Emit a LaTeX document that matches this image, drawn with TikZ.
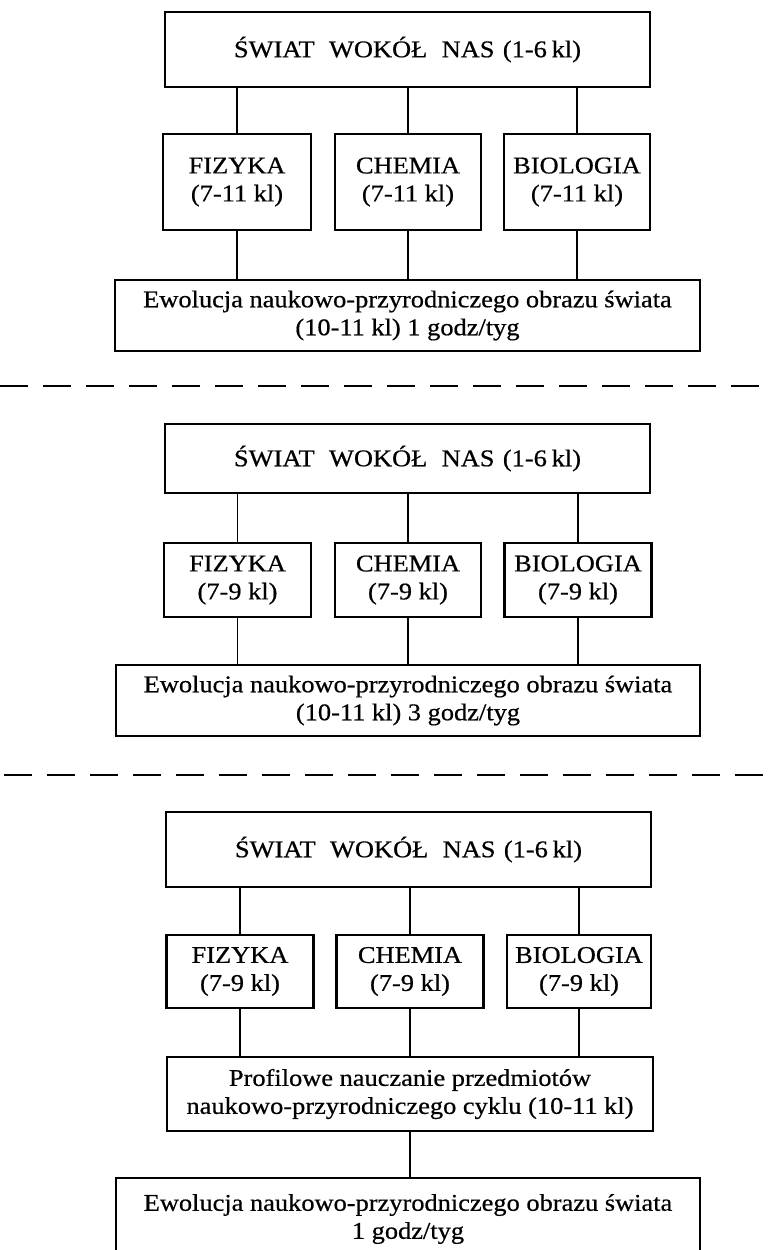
\documentclass[tikz,border=0pt]{standalone}
\usepackage{fontspec}
\setmainfont{Liberation Serif}[FakeStretch=1.1,FakeBold=0.6]
\begin{document}
\begin{tikzpicture}[x=1pt,y=-1pt,
  box/.style={draw, line width=2.6pt, inner sep=0pt, align=center,
    font=\fontsize{24}{28}\selectfont},
  link/.style={line width=1.8pt},
  sepline/.style={line width=2.2pt, dash pattern=on 28pt off 15pt}]
\useasboundingbox (0,0) rectangle (772,1250);
\clip (0,0) rectangle (772,1250);
\newcommand{\swiat}{ŚWIAT\hspace{0.6em}WOKÓŁ\hspace{0.6em}NAS\hspace{0.35em}(1-6\hspace{0.2em}kl)}

% ---------- section 1 ----------
\node[box, minimum width=485pt, minimum height=75pt] (top1) at (407.5,49.5) {\swiat};
\node[box, minimum width=148pt, minimum height=96pt] (fiz1) at (237,182) {FIZYKA\\(7-11 kl)};
\node[box, minimum width=146pt, minimum height=96pt] (che1) at (408,182) {CHEMIA\\(7-11 kl)};
\node[box, minimum width=146pt, minimum height=96pt] (bio1) at (577,182) {BIOLOGIA\\(7-11 kl)};
\node[box, minimum width=585pt, minimum height=71pt] (ev1) at (407.5,315.5)
  {Ewolucja naukowo-przyrodniczego obrazu świata\\(10-11 kl) 1 godz/tyg};
\foreach \n in {fiz1,che1,bio1}{
  \draw[link] (top1.south -| \n.north) -- (\n.north);
  \draw[link] (\n.south) -- (\n.south |- ev1.north);
}
\coordinate (d1l) at (0,386);
\coordinate (d1r) at (772,386);
\draw[sepline] (d1l) -- (d1r);

% ---------- section 2 ----------
\node[box, minimum width=485pt, minimum height=69pt] (top2) at (407.5,458.5) {\swiat};
\node[box, minimum width=147pt, minimum height=74pt] (fiz2) at (237.5,580) {FIZYKA\\(7-9 kl)};
\node[box, minimum width=146pt, minimum height=74pt] (che2) at (408,580) {CHEMIA\\(7-9 kl)};
\node[box, minimum width=147pt, minimum height=74pt] (bio2) at (578,580) {BIOLOGIA\\(7-9 kl)};
\node[box, minimum width=584pt, minimum height=71pt] (ev2) at (408,700.5)
  {Ewolucja naukowo-przyrodniczego obrazu świata\\(10-11 kl) 3 godz/tyg};
\foreach \n in {fiz2,che2,bio2}{
  \draw[link] (top2.south -| \n.north) -- (\n.north);
  \draw[link] (\n.south) -- (\n.south |- ev2.north);
}
\coordinate (d2l) at (4,775);
\coordinate (d2r) at (772,775);
\draw[sepline] (d2l) -- (d2r);

% ---------- section 3 ----------
\node[box, minimum width=485pt, minimum height=75pt] (top3) at (408.5,849.5) {\swiat};
\node[box, minimum width=147pt, minimum height=73pt] (fiz3) at (240,971.5) {FIZYKA\\(7-9 kl)};
\node[box, minimum width=147pt, minimum height=73pt] (che3) at (410,971.5) {CHEMIA\\(7-9 kl)};
\node[box, minimum width=144pt, minimum height=73pt] (bio3) at (579,971.5) {BIOLOGIA\\(7-9 kl)};
\node[box, minimum width=486pt, minimum height=74pt] (prof) at (410,1094)
  {Profilowe nauczanie przedmiotów\\naukowo-przyrodniczego cyklu (10-11 kl)};
\node[box, minimum width=584pt, minimum height=82pt] (ev3) at (408,1219)
  {Ewolucja naukowo-przyrodniczego obrazu świata\\1 godz/tyg};
\foreach \n in {fiz3,che3,bio3}{
  \draw[link] (top3.south -| \n.north) -- (\n.north);
  \draw[link] (\n.south) -- (\n.south |- prof.north);
}
\draw[link] (prof.south) -- (prof.south |- ev3.north);
\end{tikzpicture}
\end{document}
